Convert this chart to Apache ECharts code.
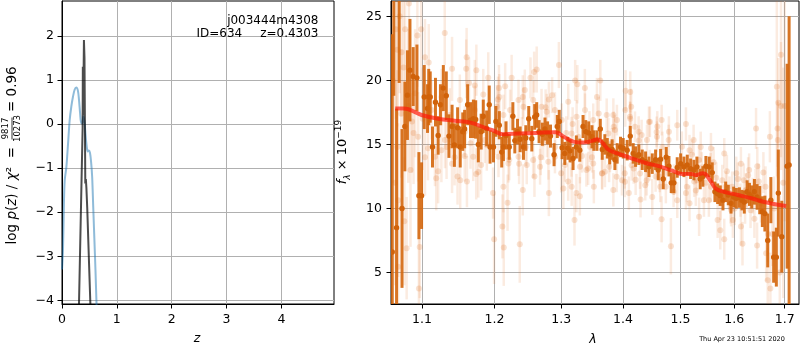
<!DOCTYPE html>
<html><head><meta charset="utf-8">
<script src="https://cdn.jsdelivr.net/npm/echarts@6/dist/echarts.min.js"></script>
<style>html,body{margin:0;padding:0;background:#fff}#c{width:800px;height:350px}</style>
</head><body><div id="c"></div>
<script>
const FONT = 'DejaVu Sans';
// ---------- tick labels ----------
const zTicks = [0, 1, 2, 3, 4];
const logpTicks = [-4, -3, -2, -1, 0, 1, 2];
const lamTicks = [1.1, 1.2, 1.3, 1.4, 1.5, 1.6, 1.7];
const fluxTicks = [5, 10, 15, 20, 25];

// ---------- left panel: log p(z) ----------
const pzBlue = [[0,-3.3],[0.018,-2.86],[0.035,-1.8],[0.05,-1.27],[0.08,-0.97],[0.11,-0.45],[0.14,0.09],[0.17,0.4],[0.20,0.62],[0.23,0.78],[0.26,0.83],[0.29,0.76],[0.31,0.55],[0.33,0.25],[0.35,0.02],[0.37,0.02],[0.39,0.17],[0.41,0.05],[0.43,-0.25],[0.45,-0.5],[0.47,-0.62],[0.49,-0.6],[0.51,-0.65],[0.53,-0.85],[0.55,-1.2],[0.57,-1.9],[0.59,-2.6],[0.61,-3.3],[0.63,-4.1],[0.65,-4.8]];
const pzBest = [[0.30,-4.7],[0.31,-4.07],[0.376,-0.1],[0.38,1.3],[0.386,0.2],[0.40,1.91],[0.41,1.5],[0.425,-1.35],[0.435,-1.25],[0.445,-1.45],[0.46,-1.9],[0.517,-4.07],[0.53,-5]];

// ---------- right panel: spectrum (lambda [um], flux, error) ----------
const modelLine = [[1.0653,17.8],[1.076,17.8],[1.0995,17.3],[1.1216,17.0],[1.1437,16.85],[1.166,16.7],[1.189,16.25],[1.198,16.1],[1.212,15.8],[1.236,15.85],[1.262,15.9],[1.2915,15.95],[1.304,15.6],[1.3205,15.2],[1.3355,15.15],[1.3505,15.3],[1.3575,15.4],[1.3657,15.15],[1.377,14.55],[1.3945,14.25],[1.4157,13.9],[1.4386,13.55],[1.4617,13.3],[1.4853,12.95],[1.5033,12.7],[1.519,12.7],[1.528,12.6],[1.5407,12.75],[1.5466,12.65],[1.556,12.1],[1.5652,11.55],[1.581,11.3],[1.607,11.05],[1.633,10.8],[1.659,10.5],[1.678,10.35],[1.703,10.2]];

const spectrumPoints = [
[1.0615,6.6,17],[1.0635,28,9.2],[1.067,8.5,9.3],[1.0703,27,7.2],[1.074,10.0,6.2],[1.0777,16.4,3.5],[1.081,18.85,3.5],[1.0843,20.8,4.0],[1.0885,20.3,2.3],[1.0934,20.2,2.6],
[1.096,11.0,3.4],[1.0995,11.0,2.6],[1.103,18.7,2.5],[1.1074,17.8,1.9],[1.109,18.7,2.2],[1.111,18.7,2.0],[1.114,14.8,1.6],[1.118,18.3,1.9],[1.1216,15.7,1.5],[1.1247,18.1,1.6],
[1.1286,19.4,1.8],[1.1326,18.8,1.9],[1.1362,15.65,1.7],[1.1405,16.4,1.7],[1.1437,14.95,1.7],[1.1481,16.3,1.6],[1.1517,14.8,1.6],[1.1552,16.0,1.5],[1.1578,16.2,1.5],[1.162,18.1,1.6],
[1.166,16.9,1.4],[1.170,17.0,1.5],[1.1733,16.95,1.5],[1.177,15.0,1.4],[1.181,16.0,1.4],[1.184,17.2,1.3],[1.1888,16.25,1.4],[1.1925,18.1,1.5],[1.1937,14.8,1.3],[1.1986,14.8,1.2],
[1.2021,16.8,1.2],[1.207,16.5,1.1],[1.2105,14.4,1.2],[1.213,14.8,1.1],[1.2167,15.7,1.1],[1.2215,14.8,1.0],[1.2268,17.2,1.1],[1.2297,15.3,1.0],[1.2337,16.0,1.0],[1.2376,15.4,1.0],
[1.2425,14.8,1.0],[1.246,15.5,1.0],[1.2504,17.0,1.0],[1.255,15.45,1.0],[1.2594,17.15,1.0],[1.2624,17.3,1.0],[1.266,16.0,0.9],[1.271,15.8,0.9],[1.275,16.2,0.9],[1.279,15.9,0.9],
[1.2835,15.65,0.9],[1.289,14.2,0.9],[1.294,16.4,0.9],[1.297,16.8,0.9],[1.3015,14.75,0.9],[1.3057,14.3,0.9],[1.3104,14.7,0.9],[1.314,14.5,0.9],[1.3187,13.9,0.9],[1.3239,14.8,0.9],
[1.3294,14.55,0.9],[1.3346,16.4,0.9],[1.339,16.0,0.9],[1.3437,15.9,0.9],[1.349,15.6,0.9],[1.352,15.3,0.8],[1.357,15.3,0.8],[1.3625,16.2,0.8],[1.3657,14.6,0.8],[1.37,15.0,0.8],
[1.374,14.7,0.8],[1.378,14.25,0.8],[1.382,14.6,0.8],[1.3866,13.8,0.8],[1.3904,14.3,0.8],[1.396,14.8,0.8],[1.4005,14.7,0.8],[1.4072,14.55,0.8],[1.4124,15.65,0.8],[1.4174,14.3,0.8],
[1.4215,14.05,0.8],[1.427,14.2,0.8],[1.4328,13.8,0.8],[1.4386,13.65,0.8],[1.4444,13.25,0.8],[1.4502,13.5,0.8],[1.456,13.8,0.8],[1.4606,13.0,0.8],[1.4648,13.85,0.8],[1.4694,12.3,0.8],
[1.4747,14.0,0.8],[1.4795,13.3,0.8],[1.4836,12.0,0.8],[1.4884,12.0,0.8],[1.4943,13.2,0.8],[1.5004,13.5,0.8],[1.5064,13.25,0.8],[1.5124,13.4,0.8],[1.5185,13.1,0.8],[1.5245,13.0,0.8],
[1.530,13.25,0.8],[1.536,12.3,0.8],[1.541,12.5,0.8],[1.5466,13.3,0.8],[1.5528,13.25,0.8],[1.5584,12.8,0.8],[1.5634,11.3,0.8],[1.5685,11.15,0.8],[1.5735,11.0,0.8],[1.5786,10.65,0.8],
[1.5837,11.3,0.8],[1.5887,11.05,0.8],[1.5939,10.4,0.8],[1.599,10.9,0.8],[1.6042,10.8,0.8],[1.610,10.85,0.8],[1.615,10.65,0.8],[1.6195,10.5,0.9],[1.625,11.3,0.9],[1.6296,11.1,0.9],
[1.634,10.9,0.9],[1.6393,11.3,1.0],[1.6446,10.9,1.0],[1.6498,10.65,1.1],[1.655,9.75,1.2],[1.660,9.6,1.4],[1.6657,7.5,2.1],[1.672,10.65,1.8],[1.6776,6.2,2.0],[1.683,6.2,2.3],
[1.687,11.2,3.4],[1.694,7.8,2.8],[1.705,13.3,8.0],[1.709,13.4,11.6]
];

const beamPoints = [
[1.062,20,8],[1.065,12,8],[1.066,24,7],[1.068,22.4,6],[1.068,14.8,6],[1.069,10.65,6],[1.069,5.45,5],[1.071,25,6],[1.073,17.4,5],[1.0733,22.2,5],
[1.076,21,6],[1.077,9,5],[1.078,24,5],[1.080,6.9,4],[1.082,18,6],[1.083,26,5],[1.085,13,6],[1.087,16.8,4],[1.089,15.9,4],[1.091,19,5],
[1.094,23.5,4],[1.095,15.6,3.5],[1.096,3.75,4],[1.097,7.0,4],[1.099,24,4],[1.101,17,4],[1.104,21.8,3],[1.104,14.0,3],[1.108,14.7,2.5],[1.109,21.4,3],
[1.1127,17.68,2.3],[1.1173,14.04,2.3],[1.119,12.35,2.5],[1.1216,12.9,2.5],[1.1262,18.7,2.2],[1.126,14.55,2.5],[1.1305,23.7,2.5],[1.1308,15.34,2.2],[1.133,14.8,2.5],[1.1375,17.29,2.1],
[1.1405,20.9,2.5],[1.1405,13.5,2.3],[1.144,14.0,2.2],[1.148,12.5,2.2],[1.1512,18.46,2.0],[1.1517,12.2,2.2],[1.158,14.1,2],[1.1581,16.0,2.0],[1.160,20.9,2.3],[1.1606,21.8,2.3],
[1.161,12.1,2],[1.164,19.8,2],[1.166,15.1,2],[1.1698,14.04,1.9],[1.1721,17.68,1.9],[1.172,19.6,2],[1.174,12.7,2],[1.1742,20.8,2],[1.177,12.85,2],[1.181,13.4,2],
[1.184,18.9,2],[1.1862,15.34,1.8],[1.189,14.95,2],[1.1911,20.2,2],[1.1995,7.6,3.5],[1.198,11.2,2],[1.2010,15.86,1.7],[1.2034,17.94,1.7],[1.2058,14.04,1.6],[1.2065,19.4,1.8],
[1.207,18.7,1.8],[1.205,18.5,1.8],[1.213,11.7,2],[1.2115,8.6,2.5],[1.2130,17.29,1.6],[1.2135,6.95,3],[1.2155,19.55,1.8],[1.2179,15.34,1.5],[1.219,10.45,2.2],[1.2203,13.52,1.5],
[1.2215,13.8,1.6],[1.2228,17.68,1.6],[1.225,20.2,1.8],[1.2351,18.46,1.6],[1.2351,14.04,1.5],[1.236,13.5,1.6],[1.237,7.2,3],[1.2400,15.73,1.4],[1.2415,11.45,2],[1.2415,18.7,1.7],
[1.2424,17.94,1.5],[1.2445,19.25,1.6],[1.246,14.8,1.5],[1.2474,13.39,1.5],[1.253,20.2,1.6],[1.2571,18.46,1.5],[1.2571,13.78,1.4],[1.2585,20.65,1.6],[1.259,12.5,1.6],[1.2624,20.85,1.8],
[1.2675,13.26,1.4],[1.2685,14.0,1.4],[1.2698,17.94,1.4],[1.2723,15.08,1.3],[1.276,17.9,1.4],[1.2777,17.55,1.4],[1.278,15.3,1.3],[1.281,18.5,1.4],[1.281,11.2,1.8],[1.2802,13.65,1.4],
[1.286,18.85,1.4],[1.2903,17.68,1.4],[1.2903,14.04,1.3],[1.2905,14.8,1.3],[1.2965,21.2,1.8],[1.3,12.75,1.5],[1.301,16.9,1.3],[1.3035,11.55,1.6],[1.3058,13.39,1.3],[1.308,15.9,1.3],
[1.311,12.1,1.5],[1.3111,18.33,1.4],[1.3163,13.78,1.3],[1.3163,15.86,1.3],[1.3165,11.7,1.5],[1.318,16.6,1.3],[1.321,9.1,2],[1.322,20.0,1.6],[1.324,11.2,1.5],[1.3243,17.16,1.3],
[1.3255,19.7,1.5],[1.327,15.6,1.3],[1.3295,10.95,1.5],[1.3296,13.26,1.3],[1.333,14.1,1.3],[1.3375,19.4,1.5],[1.3377,17.68,1.3],[1.34,13.0,1.3],[1.3428,13.13,1.3],[1.345,16.3,1.3],
[1.3457,14.82,1.2],[1.349,14.0,1.2],[1.3510,16.9,1.3],[1.3510,13.52,1.2],[1.352,11.7,1.3],[1.357,18.7,1.5],[1.3599,17.42,1.3],[1.3625,20.0,1.6],[1.3652,12.73,1.2],[1.3657,12.75,1.3],
[1.3701,12.86,1.2],[1.3730,17.29,1.3],[1.3757,15.86,1.2],[1.377,13.25,1.2],[1.3784,14.03,1.2],[1.3812,15.08,1.2],[1.384,17.3,1.3],[1.384,11.45,1.3],[1.3846,16.38,1.2],[1.3867,16.12,1.2],
[1.3895,12.47,1.2],[1.39,16.9,1.2],[1.3984,12.21,1.2],[1.403,12.75,1.2],[1.4034,12.08,1.2],[1.4040,17.68,1.3],[1.4045,19.2,1.6],[1.410,11.2,1.3],[1.4119,17.16,1.2],[1.4124,19.1,1.6],
[1.4124,17.0,1.3],[1.414,17.95,1.4],[1.4147,13.38,1.2],[1.4182,13.13,1.2],[1.4204,16.38,1.2],[1.4215,12.25,1.2],[1.4267,16.0,1.2],[1.427,15.3,1.2],[1.4290,12.73,1.2],[1.430,10.7,1.4],
[1.4318,15.73,1.2],[1.4380,11.82,1.2],[1.4404,12.21,1.2],[1.4410,15.34,1.2],[1.4415,13.0,1.2],[1.4444,16.75,1.2],[1.4461,16.77,1.2],[1.4461,13.38,1.2],[1.4502,10.9,1.4],[1.456,12.5,1.2],
[1.4578,15.98,1.2],[1.4583,15.6,1.2],[1.459,16.4,1.2],[1.4631,12.47,1.2],[1.4641,11.69,1.2],[1.4666,16.9,1.2],[1.4665,9.15,1.8],[1.468,14.8,1.2],[1.474,11.7,1.3],[1.4754,13.77,1.2],
[1.4790,15.34,1.2],[1.4795,16.0,1.2],[1.483,7.05,2.2],[1.4878,11.3,1.2],[1.4884,12.25,1.2],[1.4943,16.5,1.2],[1.4943,10.65,1.4],[1.5027,14.82,1.2],[1.51,16.6,1.3],[1.51,11.2,1.3],
[1.5117,11.69,1.2],[1.5165,10.4,1.4],[1.5165,14.55,1.2],[1.521,14.2,1.2],[1.5240,15.34,1.2],[1.525,12.1,1.2],[1.528,11.4,1.2],[1.5301,12.21,1.2],[1.5338,13.78,1.2],[1.534,9.35,1.5],
[1.537,14.8,1.2],[1.539,13.2,1.2],[1.543,10.65,1.3],[1.547,12.0,1.2],[1.5521,10.65,1.3],[1.5554,13.13,1.2],[1.556,14.7,1.2],[1.556,11.7,1.2],[1.561,13.6,1.2],[1.566,12.4,1.2],
[1.5685,9.1,1.4],[1.5735,8.3,1.5],[1.574,10.4,1.3],[1.5772,12.21,1.2],[1.581,14.3,1.2],[1.581,7.6,1.6],[1.5837,11.7,1.2],[1.586,12.9,1.3],[1.591,11.2,1.3],[1.5930,10.13,1.3],
[1.594,9.9,1.3],[1.5962,11.69,1.2],[1.5975,9.1,1.4],[1.601,10.0,1.3],[1.604,12.75,1.3],[1.607,12.3,1.3],[1.6122,10.65,1.3],[1.613,13.5,1.3],[1.613,8.6,1.5],[1.616,7.25,1.7],
[1.6187,12.21,1.3],[1.621,10.2,1.4],[1.6225,11.45,1.3],[1.627,12.6,1.4],[1.629,13.0,1.3],[1.6317,9.87,1.4],[1.636,11.0,1.4],[1.6393,9.2,1.5],[1.6415,11.69,1.4],[1.6425,16.25,1.6],
[1.645,13.3,1.5],[1.6446,7.1,1.8],[1.648,12.1,1.4],[1.652,10.4,1.5],[1.657,12.8,1.6],[1.6613,11.69,1.6],[1.6625,6.5,2.2],[1.6657,4.4,2.5],[1.666,8.0,2.2],[1.670,15.6,2],
[1.671,3.75,2.8],[1.675,8.0,2.5],[1.6785,10.0,2.5],[1.684,19.5,7],[1.6855,16.25,3],[1.686,15.35,3],[1.687,18.25,3.5],[1.69,5,6],[1.6925,18.0,5],[1.6925,22,8],
[1.697,12,9],[1.70,18,9]
];

// ---------- texts ----------
const objName = 'j003444m4308';
const idText = 'ID=634';
const zText = 'z=0.4303';
const chi2Num = '9817';
const chi2Den = '10273';
const chi2Val = '= 0.96';
const stamp = 'Thu Apr 23 10:51:51 2020';

const minus = v => (v < 0 ? '\u2212' + (-v) : String(v));

function axisStyle(ticks, fmt, margin) {
  return {
    axisLine: {show: true, onZero: false, lineStyle: {color: '#000', width: 1}},
    axisTick: {show: true, inside: false, length: 4.5, customValues: ticks, lineStyle: {color: '#000', width: 1}},
    axisLabel: {customValues: ticks, formatter: fmt, color: '#000', fontSize: 12.5, fontFamily: FONT, margin: margin},
    splitLine: {show: true, lineStyle: {color: '#b0b0b0', width: 1}}
  };
}

function errRender(barColor, barOpacity, barWidth, dotColor, dotOpacity, r) {
  return function (params, api) {
    const x = api.value(0), y = api.value(1), e = api.value(2);
    const p = api.coord([x, y]);
    const t = api.coord([x, y + e]);
    const b = api.coord([x, y - e]);
    return {
      type: 'group',
      children: [
        {type: 'line', shape: {x1: p[0], y1: t[1], x2: p[0], y2: b[1]}, style: {stroke: barColor, lineWidth: barWidth, opacity: barOpacity}},
        {type: 'circle', shape: {cx: p[0], cy: p[1], r: r}, style: {fill: dotColor, opacity: dotOpacity}}
      ]
    };
  };
}

const chart = echarts.init(document.getElementById('c'), null, {renderer: 'canvas'});
const option = {
  animation: false,
  backgroundColor: '#fff',
  grid: [
    {left: 62, top: 1, width: 272, height: 303, show: true, borderColor: '#000', borderWidth: 1, backgroundColor: 'transparent', outerBoundsMode: 'none', containLabel: false},
    {left: 391, top: 1, width: 408, height: 303, show: true, borderColor: '#000', borderWidth: 1, backgroundColor: 'transparent', outerBoundsMode: 'none', containLabel: false}
  ],
  xAxis: [
    Object.assign({type: 'value', gridIndex: 0, min: 0, max: 4.96}, axisStyle(zTicks, v => String(v), 9.5)),
    Object.assign({type: 'log', logBase: 10, gridIndex: 1, min: 1.0599, max: 1.7294}, axisStyle(lamTicks, v => Number(v).toFixed(1), 9.5))
  ],
  yAxis: [
    Object.assign({type: 'value', gridIndex: 0, min: -4.084, max: 2.795}, axisStyle(logpTicks, minus, 8)),
    Object.assign({type: 'value', gridIndex: 1, min: 2.54, max: 26.2}, axisStyle(fluxTicks, v => String(v), 9))
  ],
  series: [
    {type: 'line', xAxisIndex: 0, yAxisIndex: 0, data: pzBlue, showSymbol: false, symbol: 'none', smooth: 0.3, clip: true,
     lineStyle: {color: '#1f77b4', width: 2, opacity: 0.5}, z: 3},
    {type: 'line', xAxisIndex: 0, yAxisIndex: 0, data: pzBest, showSymbol: false, symbol: 'none', clip: true,
     lineStyle: {color: '#000', width: 2, opacity: 0.7}, z: 4},
    {type: 'custom', xAxisIndex: 1, yAxisIndex: 1, data: beamPoints, clip: true, encode: {x: 0, y: 1},
     renderItem: errRender('#e07020', 0.14, 2.5, '#e07020', 0.2, 3), z: 2},
    {type: 'custom', xAxisIndex: 1, yAxisIndex: 1, data: spectrumPoints, clip: true, encode: {x: 0, y: 1},
     renderItem: errRender('#d4660c', 0.9, 3, '#d0620a', 1, 2.7), z: 3},
    {type: 'line', xAxisIndex: 1, yAxisIndex: 1, data: modelLine, showSymbol: false, symbol: 'none', smooth: 0.4, clip: true,
     lineStyle: {color: '#ff1a0a', width: 4, opacity: 0.7}, z: 4}
  ],
  graphic: [
    {type: 'text', x: 318.5, y: 20.5, style: {text: objName, align: 'right', verticalAlign: 'middle', font: '12px "DejaVu Sans"', fill: '#000'}, z: 10},
    {type: 'text', x: 196.5, y: 34, style: {text: idText, align: 'left', verticalAlign: 'middle', font: '12px "DejaVu Sans"', fill: '#000'}, z: 10},
    {type: 'text', x: 318.5, y: 34, style: {text: zText, align: 'right', verticalAlign: 'middle', font: '12px "DejaVu Sans"', fill: '#000'}, z: 10},
    {type: 'text', x: 197, y: 339, style: {text: 'z', align: 'center', verticalAlign: 'middle', font: 'italic 12.5px "DejaVu Sans"', fill: '#000'}},
    {type: 'text', x: 593, y: 340, style: {text: '\u03bb', align: 'center', verticalAlign: 'middle', font: 'italic 12.5px "DejaVu Sans"', fill: '#000'}},
    {type: 'text', x: 742, y: 339.5, style: {text: stamp, align: 'center', verticalAlign: 'middle', font: '6.5px "DejaVu Sans"', fill: '#000'}},
    {type: 'group', x: 12, y: 150, rotation: Math.PI / 2, children: [
      {type: 'text', x: 3, y: 0, style: {
        text: '{n|log }{i|p}{n|(}{i|z}{n|) / }{i|\u03c7}{n|\u00b2  =}', align: 'right', verticalAlign: 'middle',
        rich: {n: {fontFamily: FONT, fontSize: 13.5, fill: '#000'}, i: {fontFamily: FONT, fontSize: 13.5, fontStyle: 'italic', fill: '#000'}}
      }},
      {type: 'text', x: 21.5, y: -6, style: {text: chi2Num, align: 'center', verticalAlign: 'middle', font: '8.5px "DejaVu Sans"', fill: '#000'}},
      {type: 'line', shape: {x1: 10.5, y1: 0, x2: 32.5, y2: 0}, style: {stroke: '#000', lineWidth: 0.8}},
      {type: 'text', x: 21.5, y: 6, style: {text: chi2Den, align: 'center', verticalAlign: 'middle', font: '8.5px "DejaVu Sans"', fill: '#000'}},
      {type: 'text', x: 38, y: 0, style: {text: chi2Val, align: 'left', verticalAlign: 'middle', font: '13.5px "DejaVu Sans"', fill: '#000'}}
    ]},
    {type: 'group', x: 343, y: 152, rotation: Math.PI / 2, children: [
      {type: 'text', x: 0, y: 0, style: {
        text: '{i|f}{s|\u03bb}{n| \u00d7 10}{p|\u221219}', align: 'center', verticalAlign: 'middle',
        rich: {
          i: {fontFamily: FONT, fontSize: 13, fontStyle: 'italic', fill: '#000', lineHeight: 18, verticalAlign: 'middle'},
          s: {fontFamily: FONT, fontSize: 9, fontStyle: 'italic', fill: '#000', lineHeight: 18, verticalAlign: 'bottom'},
          n: {fontFamily: FONT, fontSize: 13, fill: '#000', lineHeight: 18, verticalAlign: 'middle'},
          p: {fontFamily: FONT, fontSize: 9, fill: '#000', lineHeight: 18, verticalAlign: 'top'}
        }
      }}
    ]}
  ]
};
chart.setOption(option);
</script>
</body></html>
